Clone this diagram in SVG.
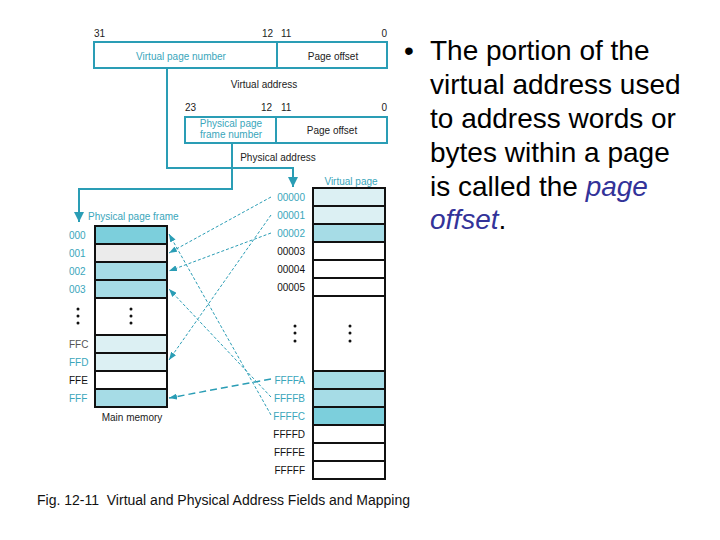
<svg xmlns="http://www.w3.org/2000/svg" width="720" height="540" viewBox="0 0 720 540">
<style>
text{font-family:"Liberation Sans",Arial,sans-serif}
.s{font-size:10px;fill:#222}
.t{font-size:10px;fill:#3aa6bb}
.k{font-size:10px;fill:#111}
.g{font-size:10px;fill:#555}
.box{fill:#fff;stroke:#2a9db5;stroke-width:2}
.cell{stroke:#111;stroke-width:2}
.dk{fill:#7ccfdc}.md{fill:#a6dce6}.lt{fill:#dcf0f3}.gy{fill:#ebebeb}.wh{fill:#fff}
.sol{fill:none;stroke:#2a9db5;stroke-width:2}
.dsh{fill:none;stroke:#2a9db5;stroke-width:1;stroke-dasharray:3,2}
.dl{fill:none;stroke:#2a9db5;stroke-width:1.5;stroke-dasharray:7,4}
.big{font-size:28px;fill:#000}
.it{font-style:italic;fill:#333399}
.cap{font-size:14px;fill:#111;white-space:pre}
</style>
<defs>
<marker id="ah" markerWidth="8" markerHeight="6" refX="8" refY="3" orient="auto" markerUnits="userSpaceOnUse"><path d="M0,0 L8,3 L0,6 z" fill="#2a9db5"/></marker>
<marker id="ab" markerWidth="10" markerHeight="10" refX="10" refY="5" orient="auto" markerUnits="userSpaceOnUse"><path d="M0,0 L10,5 L0,10 z" fill="#2a9db5"/></marker>
</defs>

<g id="virtual-address">
<rect class="box" x="94" y="42" width="293" height="26"/>
<line x1="277" y1="42" x2="277" y2="68" stroke="#2a9db5" stroke-width="2"/>
<text class="s" x="94" y="37">31</text>
<text class="s" x="273" y="37" text-anchor="end">12</text>
<text class="s" x="281" y="37">11</text>
<text class="s" x="387" y="37" text-anchor="end">0</text>
<text class="t" x="181" y="60" text-anchor="middle">Virtual page number</text>
<text class="s" x="333" y="60" text-anchor="middle">Page offset</text>
<text class="s" x="264" y="88" text-anchor="middle">Virtual address</text>
</g>

<g id="physical-address">
<rect class="box" x="185" y="117" width="202" height="26"/>
<line x1="276" y1="117" x2="276" y2="143" stroke="#2a9db5" stroke-width="2"/>
<text class="s" x="185" y="111">23</text>
<text class="s" x="272" y="111" text-anchor="end">12</text>
<text class="s" x="281" y="111">11</text>
<text class="s" x="387" y="111" text-anchor="end">0</text>
<text class="t" x="231" y="127" text-anchor="middle">Physical page</text>
<text class="t" x="231" y="138" text-anchor="middle">frame number</text>
<text class="s" x="332" y="134" text-anchor="middle">Page offset</text>
<text class="s" x="278" y="161" text-anchor="middle">Physical address</text>
</g>

<g id="main-memory">
<text class="t" x="88" y="220">Physical page frame</text>
<rect class="cell dk" x="95" y="226" width="72" height="18"/>
<rect class="cell gy" x="95" y="244" width="72" height="18"/>
<rect class="cell md" x="95" y="262" width="72" height="18"/>
<rect class="cell md" x="95" y="280" width="72" height="18"/>
<rect class="cell wh" x="95" y="298" width="72" height="37"/>
<rect class="cell lt" x="95" y="335" width="72" height="18"/>
<rect class="cell lt" x="95" y="353" width="72" height="18"/>
<rect class="cell wh" x="95" y="371" width="72" height="18"/>
<rect class="cell md" x="95" y="389" width="72" height="18"/>
<text class="t" x="69" y="239">000</text>
<text class="t" x="69" y="257">001</text>
<text class="t" x="69" y="275">002</text>
<text class="t" x="69" y="293">003</text>
<g fill="#111"><circle cx="78" cy="309" r="1.5"/><circle cx="78" cy="316" r="1.5"/><circle cx="78" cy="323" r="1.5"/>
<circle cx="131" cy="309" r="1.5"/><circle cx="131" cy="316" r="1.5"/><circle cx="131" cy="323" r="1.5"/></g>
<text class="g" x="69" y="348">FFC</text>
<text class="t" x="69" y="366">FFD</text>
<text class="k" x="69" y="384">FFE</text>
<text class="t" x="69" y="402">FFF</text>
<text class="s" x="132" y="421" text-anchor="middle">Main memory</text>
</g>

<g id="virtual-page">
<text class="t" x="351" y="185" text-anchor="middle">Virtual page</text>
<rect class="cell lt" x="313" y="188" width="72" height="18"/>
<rect class="cell lt" x="313" y="206" width="72" height="18"/>
<rect class="cell md" x="313" y="224" width="72" height="18"/>
<rect class="cell wh" x="313" y="242" width="72" height="18"/>
<rect class="cell wh" x="313" y="260" width="72" height="18"/>
<rect class="cell wh" x="313" y="278" width="72" height="18"/>
<rect class="cell wh" x="313" y="296" width="72" height="75"/>
<rect class="cell md" x="313" y="371" width="72" height="18"/>
<rect class="cell md" x="313" y="389" width="72" height="18"/>
<rect class="cell dk" x="313" y="407" width="72" height="18"/>
<rect class="cell wh" x="313" y="425" width="72" height="18"/>
<rect class="cell wh" x="313" y="443" width="72" height="18"/>
<rect class="cell wh" x="313" y="461" width="72" height="18"/>
<text class="t" x="305" y="201" text-anchor="end">00000</text>
<text class="t" x="305" y="219" text-anchor="end">00001</text>
<text class="t" x="305" y="237" text-anchor="end">00002</text>
<text class="k" x="305" y="255" text-anchor="end">00003</text>
<text class="k" x="305" y="273" text-anchor="end">00004</text>
<text class="k" x="305" y="291" text-anchor="end">00005</text>
<g fill="#111"><circle cx="295" cy="326" r="1.5"/><circle cx="295" cy="333" r="1.5"/><circle cx="295" cy="341" r="1.5"/>
<circle cx="350" cy="326" r="1.5"/><circle cx="350" cy="333" r="1.5"/><circle cx="350" cy="341" r="1.5"/></g>
<text class="t" x="305" y="384" text-anchor="end">FFFFA</text>
<text class="t" x="305" y="402" text-anchor="end">FFFFB</text>
<text class="t" x="305" y="420" text-anchor="end">FFFFC</text>
<text class="k" x="305" y="438" text-anchor="end">FFFFD</text>
<text class="k" x="305" y="456" text-anchor="end">FFFFE</text>
<text class="k" x="305" y="474" text-anchor="end">FFFFF</text>
</g>

<g id="connectors">
<path class="sol" d="M167,68 V168 H293 V187" marker-end="url(#ab)"/>
<path class="sol" d="M232,143 V189 H79 V222" marker-end="url(#ab)"/>
<line class="dsh" x1="271" y1="197" x2="169" y2="253" marker-end="url(#ah)"/>
<line class="dsh" x1="271" y1="215" x2="169" y2="360" marker-end="url(#ah)"/>
<line class="dsh" x1="271" y1="233" x2="169" y2="271" marker-end="url(#ah)"/>
<line class="dl" x1="271" y1="379" x2="169" y2="398" marker-end="url(#ah)"/>
<line class="dsh" x1="271" y1="397" x2="169" y2="289" marker-end="url(#ah)"/>
<line class="dsh" x1="271" y1="415" x2="169" y2="234" marker-end="url(#ah)"/>
</g>

<g id="bullet-text">
<text class="big" x="404" y="60">•</text>
<text class="big" x="430" y="60">The portion of the</text>
<text class="big" x="430" y="94">virtual address used</text>
<text class="big" x="430" y="128">to address words or</text>
<text class="big" x="430" y="162">bytes within a page</text>
<text class="big" x="430" y="196">is called the <tspan class="it">page</tspan></text>
<text class="big" x="430" y="229"><tspan class="it">offset</tspan>.</text>
</g>

<text class="cap" x="37" y="505">Fig. 12-11  Virtual and Physical Address Fields and Mapping</text>
</svg>
